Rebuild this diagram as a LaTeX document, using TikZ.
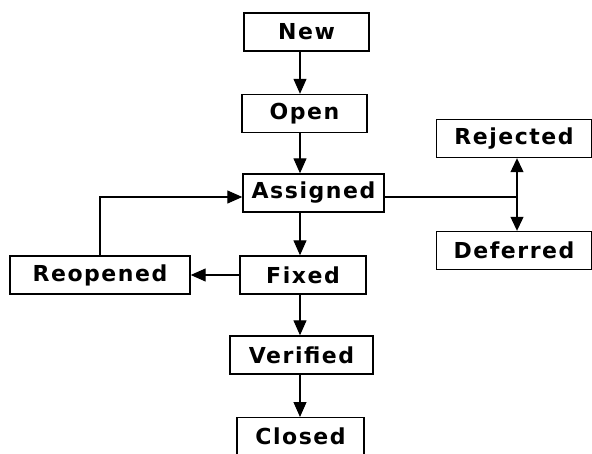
\documentclass[tikz,border=0pt]{standalone}
\usepackage{fontspec}
\usetikzlibrary{arrows.meta,positioning,calc}
\newfontfamily\statefont[LetterSpace=7]{DejaVu Sans}
\definecolor{inkDark}{RGB}{0, 0, 0}

\tikzset{
  statebox/.style={draw=inkDark, fill=white, line width=1.4pt, minimum height=38pt,
    inner sep=0pt, font=\statefont\bfseries\fontsize{22}{24}\selectfont},
  flow/.style={-{Triangle[length=15pt, width=13pt]}, line width=1.2pt, color=inkDark},
  bothflow/.style={{Triangle[length=14pt, width=13pt]}-{Triangle[length=14pt, width=13pt]}, line width=1.2pt, color=inkDark}
}

\begin{document}
\begin{tikzpicture}[x=1pt, y=1pt]
      \useasboundingbox (0,0) rectangle (592,-453);

      % main life cycle column
      \node (new) [statebox, minimum width=125pt] at (306.5,-32) {New};
      \node (open) [statebox, minimum width=125pt] at (304.5,-113.5) {Open};
      \node (assigned) [statebox, minimum width=141pt] at (313.5,-193) {Assigned};
      \node (fixed) [statebox, minimum width=126pt] at (303,-275) {Fixed};
      \node (verified) [statebox, minimum width=143pt] at (301.5,-355) {Verified};
      \node (closed) [statebox, minimum width=127pt, anchor=north] at (300.5,-417) {Closed};

      % side states
      \node (reopened) [statebox, minimum width=180pt] at (100,-275) {Reopened};
      \node (rejected) [statebox, minimum width=155pt] at (514,-138.5) {Rejected};
      \node (deferred) [statebox, minimum width=155pt] at (514,-250.5) {Deferred};

      \coordinate (spine) at (300,0);
      \coordinate (branch) at (517,-197);
      \coordinate (loop) at (100,-197);

      \draw[flow] (new.south -| spine) -- (open.north -| spine);
      \draw[flow] (open.south -| spine) -- (assigned.north -| spine);
      \draw[flow] (assigned.south -| spine) -- (fixed.north -| spine);
      \draw[flow] (fixed.south -| spine) -- (verified.north -| spine);
      \draw[flow] (verified.south -| spine) -- (closed.north -| spine);

      \draw[flow] (fixed.west) -- (reopened.east);
      \draw[flow] (reopened.north -| loop) -- (loop) -- (loop -| assigned.west);

      \draw[line width=1.2pt] (assigned.east |- branch) -- (branch);
      \draw[bothflow] (rejected.south -| branch) -- (deferred.north -| branch);
  \end{tikzpicture}
\end{document}
